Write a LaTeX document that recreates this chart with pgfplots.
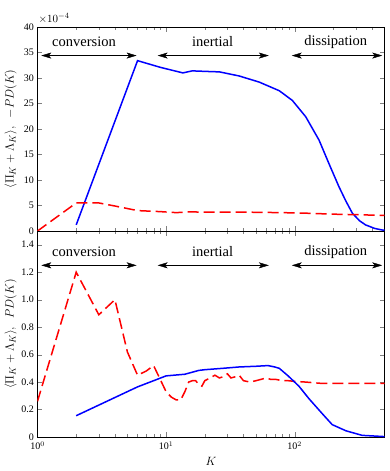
\documentclass[border=0pt]{standalone}
\usepackage{fontspec}
\setmainfont{Liberation Serif}
\usepackage{pgfplots}
\pgfplotsset{compat=1.18}
\usetikzlibrary{arrows.meta}

\tikzset{
  blueline/.style={blue, line width=1.5pt},
  redline/.style={red, line width=1.5pt, dash pattern=on 11pt off 5pt},
  anno/.style={font=\fontsize{14.5}{16}\selectfont},
  dbl/.style={<->, >={Stealth[length=10pt,width=6pt,inset=2.5pt]}, thin},
}

\begin{document}
\begin{tikzpicture}
\begin{axis}[name=top,
  width=347pt, height=204pt, scale only axis,
  xmode=log, xmin=1, xmax=500,
  tick align=inside,
  major tick length=5pt, minor tick length=3pt,
  ymin=0, ymax=40, ytick={0,5,...,40},
  xticklabels={},
  tick label style={font=\fontsize{10}{12}\selectfont},
  ylabel style={font=\fontsize{13}{15}\selectfont, at={(axis description cs:-0.05,0.5)}},
  ylabel={$\langle \Pi_K+\Lambda_K\rangle,\ \ -PD(K)$},
  yticklabels={0,5,10,15,20,25,30,35,40},
]
\addplot[blueline] coordinates {
  (2,1.2) (6,33.4) (9,32.1) (13.5,31.0) (16,31.4) (20,31.3) (26,31.2)
  (37,30.4) (53,29.2) (76,27.5) (96,25.6) (122,22.4) (155,17.8) (185,13.2)
  (221,8.7) (250,5.9) (281,3.5) (320,2.0) (356,1.2) (420,0.5) (479,0.2) (500,0.15)
};
\addplot[redline] coordinates {
  (1,0) (2,5.5) (3,5.5) (4,4.9) (6,4.0) (9,3.8) (12,3.6) (15,3.75) (20,3.7)
  (40,3.7) (80,3.6) (120,3.5) (200,3.3) (300,3.2) (500,3.05)
};
\draw[dbl] (axis cs:1.07,34.4) -- (axis cs:5.9,34.4);
\draw[dbl] (axis cs:8.6,34.4) -- (axis cs:63,34.4);
\draw[dbl] (axis cs:95,34.4) -- (axis cs:480,34.4);
\node[anno] at (axis cs:2.3,37.1) {conversion};
\node[anno] at (axis cs:23,37.1) {inertial};
\node[anno] at (axis cs:209,37.1) {dissipation};
\end{axis}
\node[anchor=south west, font=\fontsize{11}{12}\selectfont, inner sep=1pt, yshift=2pt]
  at (top.north west) {$\times 10^{-4}$};

\begin{axis}[at={(top.south west)}, anchor=north west,
  width=347pt, height=206pt, scale only axis,
  xmode=log, xmin=1, xmax=500,
  tick align=inside,
  major tick length=5pt, minor tick length=3pt,
  ymin=0, ymax=1.5, ytick={0,0.2,0.4,0.6,0.8,1.0,1.2,1.4},
  yticklabels={0,0.2,0.4,0.6,0.8,1.0,1.2,1.4},
  xtick={1,10,100}, xticklabels={10$^{0}$,10$^{1}$,10$^{2}$},
  tick label style={font=\fontsize{10}{12}\selectfont},
  xticklabel style={yshift=-1pt},
  xlabel={$K$},
  xlabel style={font=\fontsize{12}{14}\selectfont, anchor=center, at={(axis description cs:0.5,-0.12)}},
  ylabel style={font=\fontsize{13}{15}\selectfont, at={(axis description cs:-0.05,0.5)}},
  ylabel={$\langle \Pi_K+\Lambda_K\rangle,\ \ PD(K)$},
]
\addplot[redline] coordinates {
  (1,0.26) (2,1.2) (3,0.89) (4,1.0) (5,0.62) (6,0.45) (7,0.48) (8,0.52)
  (9,0.42) (10,0.33) (11,0.29) (12,0.27) (13,0.27) (14,0.33) (15,0.40)
  (16,0.41) (17,0.41) (18,0.38) (19,0.37) (20,0.41) (22,0.43) (24,0.45)
  (26,0.43) (28,0.44) (30,0.46) (32,0.43) (35,0.44) (37,0.45) (40,0.41)
  (45,0.40) (50,0.41) (55,0.42) (60,0.43) (65,0.42) (71,0.42) (80,0.41)
  (89,0.41) (100,0.405) (122,0.40) (164,0.39) (250,0.39) (500,0.39)
};
\addplot[blueline] coordinates {
  (2,0.155) (6,0.365) (8,0.41) (10,0.445) (14,0.457) (18,0.485) (20,0.49)
  (27.5,0.50) (37,0.51) (50,0.515) (62,0.52) (70,0.51) (76,0.50) (89,0.445)
  (108,0.37) (129,0.28) (164,0.17) (196,0.09) (251,0.045) (335,0.012) (500,0.003)
};
\draw[dbl] (axis cs:1.07,1.25) -- (axis cs:5.9,1.25);
\draw[dbl] (axis cs:8.6,1.25) -- (axis cs:63,1.25);
\draw[dbl] (axis cs:95,1.25) -- (axis cs:480,1.25);
\node[anno] at (axis cs:2.3,1.35) {conversion};
\node[anno] at (axis cs:23,1.35) {inertial};
\node[anno] at (axis cs:209,1.35) {dissipation};
\end{axis}
\pgfresetboundingbox
\path[use as bounding box] (-37.5pt,-240pt) rectangle (351.5pt,231pt);
\end{tikzpicture}
\end{document}
